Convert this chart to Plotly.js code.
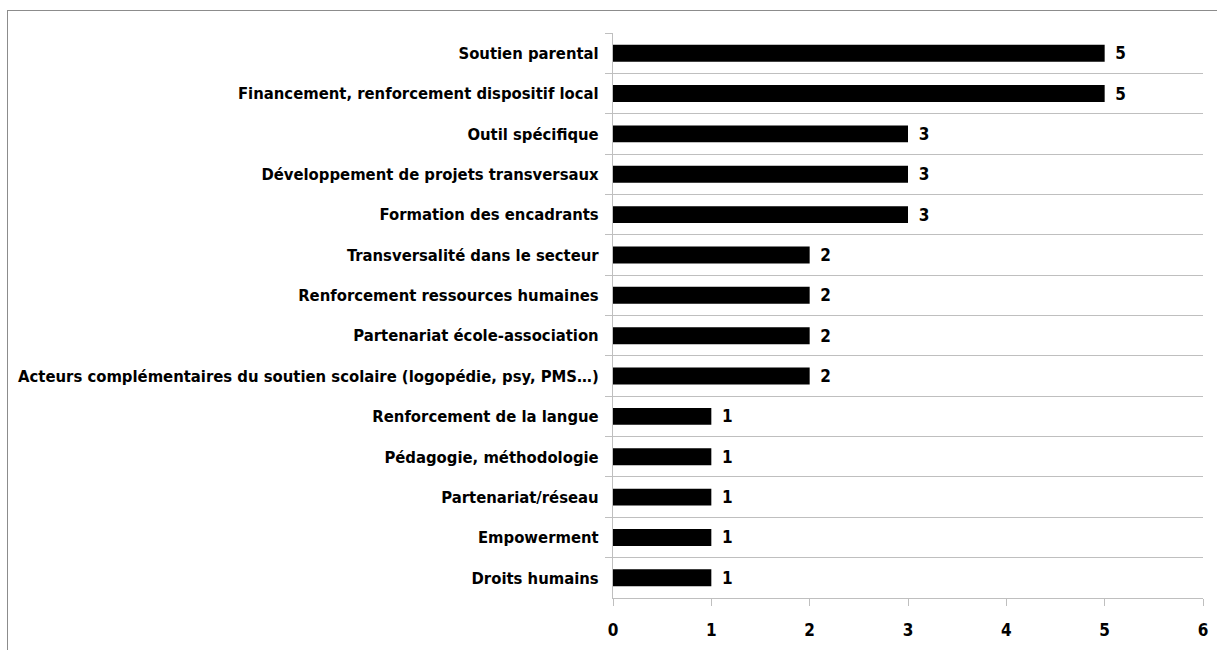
<!DOCTYPE html>
<html>
<head>
<meta charset="utf-8">
<script src="https://cdn.plot.ly/plotly-3.0.1.min.js"></script>
<style>
  html, body { margin: 0; padding: 0; background: #fff; }
  #frame { position: absolute; left: 7px; top: 10px; width: 1215px; height: 645px;
           border-left: 1px solid #8c8c8c; border-top: 1px solid #8c8c8c; }
  #chart { position: absolute; left: 0; top: 0; width: 1217px; height: 650px; }
</style>
</head>
<body>
<div id="frame"></div>
<div id="chart"></div>
<script>
const categories = [
  "Soutien parental",
  "Financement, renforcement dispositif local",
  "Outil spécifique",
  "Développement de projets transversaux",
  "Formation des encadrants",
  "Transversalité dans le secteur",
  "Renforcement ressources humaines",
  "Partenariat école-association",
  "Acteurs complémentaires du soutien scolaire (logopédie, psy, PMS…)",
  "Renforcement de la langue",
  "Pédagogie, méthodologie",
  "Partenariat/réseau",
  "Empowerment",
  "Droits humains"
];
const values = [5, 5, 3, 3, 3, 2, 2, 2, 2, 1, 1, 1, 1, 1];
const xTicks = [0, 1, 2, 3, 4, 5, 6];

const fontFamily = "'DejaVu Sans Condensed', 'Liberation Sans Narrow', Arial, sans-serif";

const trace = {
  type: "bar",
  orientation: "h",
  x: values,
  y: categories,
  marker: { color: "#000000" },
  text: values.map(v => "\u2002" + v),
  textposition: "outside",
  constraintext: "none",
  textfont: { family: fontFamily, size: 17, color: "#000", weight: "bold" },
  cliponaxis: false,
  hoverinfo: "x+y"
};

const layout = {
  width: 1217,
  height: 650,
  margin: { l: 613, r: 14, t: 33, b: 52, pad: 0 },
  paper_bgcolor: "rgba(0,0,0,0)",
  plot_bgcolor: "rgba(0,0,0,0)",
  bargap: 0.58,
  showlegend: false,
  font: { family: fontFamily, size: 16.5, color: "#000", weight: "bold" },
  xaxis: {
    range: [0, 6],
    tickvals: xTicks,
    ticktext: xTicks.map(String),
    showgrid: false,
    zeroline: false,
    showline: true,
    linecolor: "#bfbfbf",
    linewidth: 1,
    ticks: "outside",
    ticklen: 7,
    tickcolor: "#bfbfbf",
    ticklabelstandoff: 10,
    tickfont: { family: fontFamily, size: 17, color: "#000", weight: "bold" },
    fixedrange: true
  },
  yaxis: {
    type: "category",
    categoryorder: "array",
    categoryarray: categories,
    autorange: "reversed",
    tickson: "boundaries",
    showgrid: true,
    gridcolor: "#bfbfbf",
    gridwidth: 1,
    showline: true,
    linecolor: "#bfbfbf",
    linewidth: 1,
    ticks: "outside",
    ticklen: 7,
    tickcolor: "#bfbfbf",
    ticklabelstandoff: 10,
    tickfont: { family: fontFamily, size: 16.5, color: "#000", weight: "bold" },
    fixedrange: true
  }
};

Plotly.newPlot("chart", [trace], layout, { displayModeBar: false, staticPlot: true });
</script>
</body>
</html>
